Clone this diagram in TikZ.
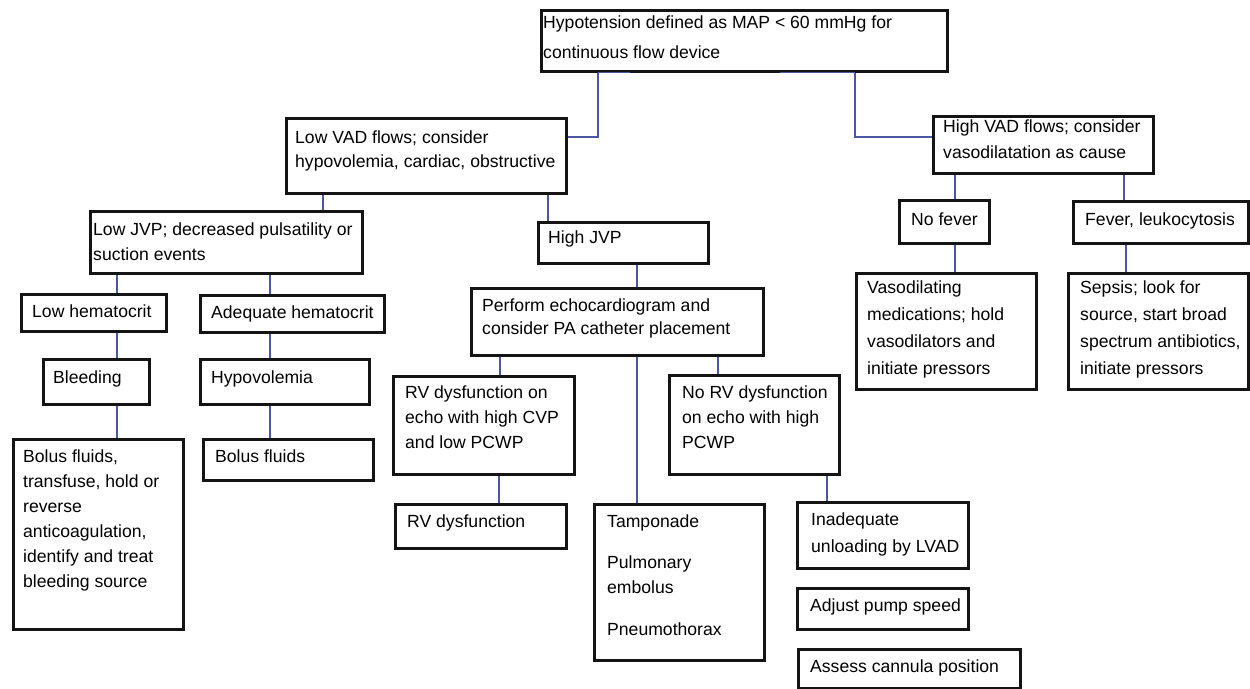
\documentclass[tikz,border=0pt]{standalone}
\usepackage{fontspec}
\setmainfont{Liberation Sans}
\definecolor{boxline}{RGB}{20,20,20}
\definecolor{connblue}{RGB}{75,88,160}
\pgfdeclarelayer{bg}
\pgfsetlayers{bg,main}
% stacked lines whose baseline is the first line
\newcommand\celltext[1]{\begin{tabular}[t]{@{}l@{}}#1\end{tabular}}
\begin{document}
\begin{tikzpicture}[x=1pt,y=-1pt,
  box/.style={draw=boxline, line width=2.6pt, fill=white, inner sep=0pt, anchor=north west},
  txt/.style={anchor=base west, inner sep=0pt, font=\fontsize{17.6}{25}\selectfont, text=black},
  conn/.style={draw=connblue, line width=1.6pt}]
\useasboundingbox (0,0) rectangle (1250,688);
\begin{pgfonlayer}{bg}
\fill[white] (0,0) rectangle (1250,688);
\end{pgfonlayer}

% boxes
\node[box, minimum width=406, minimum height=61] (top) at (540,9) {};
\node[box, minimum width=280, minimum height=75] (lowVAD) at (285,117) {};
\node[box, minimum width=220, minimum height=57] (highVAD) at (932,115) {};
\node[box, minimum width=272, minimum height=62] (lowJVP) at (89,210) {};
\node[box, minimum width=170, minimum height=41] (highJVP) at (537,221) {};
\node[box, minimum width=90, minimum height=43] (noFever) at (898,199) {};
\node[box, minimum width=175, minimum height=42] (fever) at (1072,200) {};
\node[box, minimum width=180, minimum height=116] (vaso) at (855,272) {};
\node[box, minimum width=180, minimum height=116] (sepsis) at (1067,272) {};
\node[box, minimum width=145, minimum height=37] (lowHem) at (20,293) {};
\node[box, minimum width=184, minimum height=37] (adeqHem) at (199,294) {};
\node[box, minimum width=292, minimum height=67] (echo) at (470,287) {};
\node[box, minimum width=106, minimum height=45] (bleeding) at (42,358) {};
\node[box, minimum width=169, minimum height=45] (hypovol) at (199,358) {};
\node[box, minimum width=181, minimum height=98] (rvEcho) at (392,375) {};
\node[box, minimum width=170, minimum height=99] (noRV) at (668,374) {};
\node[box, minimum width=170, minimum height=190] (bolusLong) at (12,438) {};
\node[box, minimum width=170, minimum height=41] (bolusShort) at (202,438) {};
\node[box, minimum width=171, minimum height=44] (rvDys) at (394,503) {};
\node[box, minimum width=170, minimum height=156] (tamp) at (593,503) {};
\node[box, minimum width=171, minimum height=66] (inadeq) at (796,501) {};
\node[box, minimum width=171, minimum height=41] (adjust) at (796,587) {};
\node[box, minimum width=222, minimum height=39] (assess) at (797,648) {};

% texts
\node[txt, font=\fontsize{17.6}{30}\selectfont] (topT) at (543,28) {\celltext{Hypotension defined as MAP < 60 mmHg for\\continuous flow device}};
\node[txt, font=\fontsize{17.6}{24}\selectfont] (lowVADT) at (295,143) {\celltext{Low VAD flows; consider\\hypovolemia, cardiac, obstructive}};
\node[txt, font=\fontsize{17.6}{26}\selectfont] (highVADT) at (943,132) {\celltext{High VAD flows; consider\\vasodilatation as cause}};
\node[txt] (lowJVPT) at (93,235) {\celltext{Low JVP; decreased pulsatility or\\suction events}};
\node[txt] (highJVPT) at (548,243) {High JVP};
\node[txt] (noFeverT) at (911,225) {No fever};
\node[txt] (feverT) at (1085,225) {Fever, leukocytosis};
\node[txt, font=\fontsize{17.6}{27}\selectfont] (vasoT) at (867,293) {\celltext{Vasodilating\\medications; hold\\vasodilators and\\initiate pressors}};
\node[txt, font=\fontsize{17.6}{27}\selectfont] (sepsisT) at (1080,293) {\celltext{Sepsis; look for\\source, start broad\\spectrum antibiotics,\\initiate pressors}};
\node[txt] (lowHemT) at (32,317) {Low hematocrit};
\node[txt] (adeqHemT) at (211,318) {Adequate hematocrit};
\node[txt, font=\fontsize{17.6}{23}\selectfont] (echoT) at (482,311) {\celltext{Perform echocardiogram and\\consider PA catheter placement}};
\node[txt] (bleedingT) at (53,383) {Bleeding};
\node[txt] (hypovolT) at (211,383) {Hypovolemia};
\node[txt] (rvEchoT) at (405,398) {\celltext{RV dysfunction on\\echo with high CVP\\and low PCWP}};
\node[txt] (noRVT) at (682,398) {\celltext{No RV dysfunction\\on echo with high\\PCWP}};
\node[txt] (bolusLongT) at (23,462) {\celltext{Bolus fluids,\\transfuse, hold or\\reverse\\anticoagulation,\\identify and treat\\bleeding source}};
\node[txt] (bolusShortT) at (215,462) {Bolus fluids};
\node[txt] (rvDysT) at (407,527) {RV dysfunction};
\node[txt] (tampT) at (607,527) {\celltext{Tamponade\\[16pt]Pulmonary\\embolus\\[17pt]Pneumothorax}};
\node[txt, font=\fontsize{17.6}{27}\selectfont] (inadeqT) at (811,525) {\celltext{Inadequate\\unloading by LVAD}};
\node[txt] (adjustT) at (810,611) {Adjust pump speed};
\node[txt] (assessT) at (810,672) {Assess cannula position};

% connectors, kept behind the boxes
\begin{pgfonlayer}{bg}
\draw[conn] (top.south -| 598,0) |- (lowVAD.east |- 0,137);
\draw[conn] (top.south -| 855,0) |- (highVAD.west |- 0,137);
\draw[conn] (lowVAD.south -| 323,0) -- (lowJVP.north -| 323,0);
\draw[conn] (lowVAD.south -| 548,0) -- (highJVP.north -| 548,0);
\draw[conn] (highVAD.south -| 955,0) -- (noFever.north -| 955,0);
\draw[conn] (highVAD.south -| 1124,0) -- (fever.north -| 1124,0);
\draw[conn] (noFever.south -| 955,0) -- (vaso.north -| 955,0);
\draw[conn] (fever.south -| 1126,0) -- (sepsis.north -| 1126,0);
\draw[conn] (lowJVP.south -| 117,0) -- (lowHem.north -| 117,0);
\draw[conn] (lowJVP.south -| 270,0) -- (adeqHem.north -| 270,0);
\draw[conn] (lowHem.south -| 117,0) -- (bleeding.north -| 117,0);
\draw[conn] (bleeding.south -| 117,0) -- (bolusLong.north -| 117,0);
\draw[conn] (adeqHem.south -| 270,0) -- (hypovol.north -| 270,0);
\draw[conn] (hypovol.south -| 270,0) -- (bolusShort.north -| 270,0);
\draw[conn] (highJVP.south -| 637,0) -- (echo.north -| 637,0);
\draw[conn] (echo.south -| 500,0) -- (rvEcho.north -| 500,0);
\draw[conn] (echo.south -| 718,0) -- (noRV.north -| 718,0);
\draw[conn] (echo.south -| 637,0) -- (tamp.north -| 637,0);
\draw[conn] (rvEcho.south -| 499,0) -- (rvDys.north -| 499,0);
\draw[conn] (noRV.south -| 827,0) -- (inadeq.north -| 827,0);
\end{pgfonlayer}
% short runs along the lower edge of the top box
\draw[conn] (top.south -| 630,0) -- (top.south -| 598,0);
\draw[conn] (top.south -| 780,0) -- (top.south -| 855,0);
\end{tikzpicture}
\end{document}
